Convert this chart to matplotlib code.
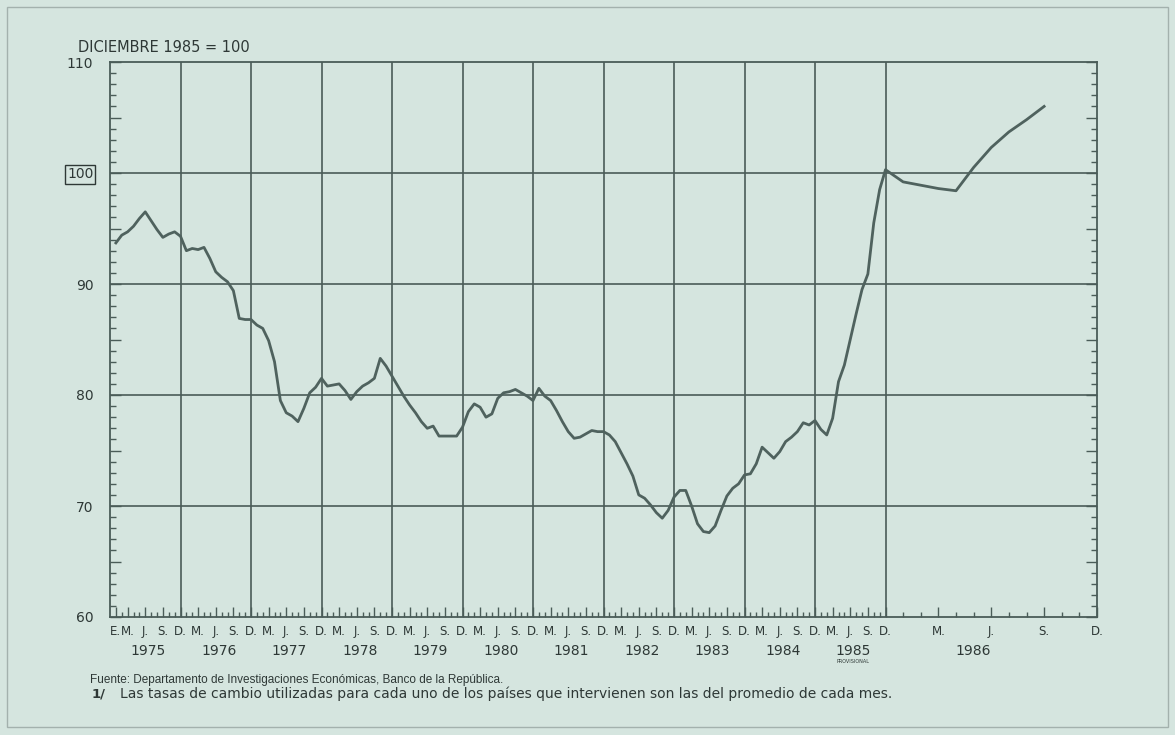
import numpy as np
import matplotlib
matplotlib.use("Agg")
import matplotlib.pyplot as plt
from matplotlib.ticker import FixedLocator, MultipleLocator
from matplotlib.patches import Rectangle

plt.rcParams['font.family'] = ['DejaVu Sans']

# indice mensual, diciembre 1985 = 100
years = [1975, 1976, 1977, 1978, 1979, 1980, 1981, 1982, 1983, 1984, 1985, 1986]
v1975 = [93.7, 94.4, 94.7, 95.2, 95.9, 96.5, 95.7, 94.9, 94.2, 94.5, 94.7, 94.3]
v1976 = [93.0, 93.2, 93.1, 93.3, 92.3, 91.1, 90.6, 90.2, 89.4, 86.9, 86.8, 86.8]
v1977 = [86.3, 86.0, 84.9, 83.0, 79.5, 78.4, 78.1, 77.6, 78.8, 80.2, 80.7, 81.5]
v1978 = [80.8, 80.9, 81.0, 80.4, 79.6, 80.3, 80.8, 81.1, 81.5, 83.3, 82.6, 81.7]
v1979 = [80.8, 79.9, 79.1, 78.4, 77.6, 77.0, 77.2, 76.3, 76.3, 76.3, 76.3, 77.1]
v1980 = [78.5, 79.2, 78.9, 78.0, 78.3, 79.7, 80.2, 80.3, 80.5, 80.2, 79.9, 79.5]
v1981 = [80.6, 79.9, 79.5, 78.6, 77.6, 76.7, 76.1, 76.2, 76.5, 76.8, 76.7, 76.7]
v1982 = [76.4, 75.8, 74.8, 73.8, 72.7, 71.0, 70.7, 70.1, 69.4, 68.9, 69.6, 70.8]
v1983 = [71.4, 71.4, 70.0, 68.4, 67.7, 67.6, 68.2, 69.6, 70.9, 71.6, 72.0, 72.8]
v1984 = [72.9, 73.8, 75.3, 74.8, 74.3, 74.9, 75.8, 76.2, 76.7, 77.5, 77.3, 77.7]
v1985 = [76.9, 76.4, 77.9, 81.2, 82.7, 85.0, 87.3, 89.5, 90.9, 95.5, 98.5, 100.3]
v1986 = [99.2, 98.9, 98.6, 98.4, 100.5, 102.3, 103.7, 104.8, 106.0]
series = [v1975, v1976, v1977, v1978, v1979, v1980, v1981, v1982, v1983, v1984, v1985, v1986]

month_letters = {3: 'M.', 6: 'J.', 9: 'S.', 12: 'D.'}
y_labels = [60, 70, 80, 90, 100, 110]
grid_levels = [70, 80, 90, 100]

months = []
values = []
for yr, vals in zip(years, series):
    for m, v in enumerate(vals, start=1):
        months.append((yr - years[0]) * 12 + m)
        values.append(v)

# 1986 se dibuja en escala ampliada (x3)
SPLIT = (1985 - years[0] + 1) * 12
STRETCH = 3.0


def fwd(t):
    t = np.asarray(t, dtype=float)
    return np.where(t <= SPLIT, t, SPLIT + (t - SPLIT) * STRETCH)


def inv(x):
    x = np.asarray(x, dtype=float)
    return np.where(x <= SPLIT, x, SPLIT + (x - SPLIT) / STRETCH)


bg = '#d5e5df'
ink = '#4a5c58'
txt = '#2e3836'

fig = plt.figure(figsize=(11.75, 7.35), dpi=100, facecolor=bg)
ax = fig.add_axes([110 / 1175, 1 - 617 / 735, 987 / 1175, 555 / 735])
ax.set_facecolor(bg)
ax.set_xscale('function', functions=(fwd, inv))
ax.set_xlim(0, 144)
ax.set_ylim(60, 110)

for sp in ax.spines.values():
    sp.set_color(ink)
    sp.set_linewidth(1.3)

# grilla
for g in grid_levels:
    ax.axhline(g, color=ink, lw=1.2, zorder=1)
for yr in years[:-1]:
    ax.axvline((yr - years[0] + 1) * 12, color=ink, lw=1.2, zorder=1)

ax.plot(months, values, color='#4f625e', lw=2.0, zorder=3, solid_joinstyle='round')

# eje x
major_pos = [1]
major_lab = ['E.']
for yr in years:
    for m, l in month_letters.items():
        major_pos.append((yr - years[0]) * 12 + m)
        major_lab.append(l)
ax.xaxis.set_major_locator(FixedLocator(major_pos))
ax.set_xticklabels(major_lab)
ax.xaxis.set_minor_locator(FixedLocator(list(range(1, 145))))
ax.tick_params(axis='x', which='major', direction='in', length=7, width=1.0,
               color=ink, labelsize=8.5, labelcolor=txt, pad=6)
ax.tick_params(axis='x', which='minor', direction='in', length=3.5, width=1.0, color=ink)

xt = ax.get_xaxis_transform()
for yr in years:
    mid = (yr - years[0]) * 12 + (6.5 if yr < 1986 else 5)
    ax.text(mid, -0.062, str(yr), transform=xt, ha='center', va='center',
            fontsize=10, color=txt)
ax.text((1985 - years[0]) * 12 + 6.5, -0.081, 'PROVISIONAL', transform=xt,
        ha='center', va='center', fontsize=3.5, color=txt)

# eje y
ax.yaxis.set_major_locator(FixedLocator(list(range(60, 111, 5))))
ax.set_yticklabels([str(v) if v in y_labels else '' for v in range(60, 111, 5)])
ax.yaxis.set_minor_locator(MultipleLocator(1))
ax.tick_params(axis='y', which='major', direction='in', length=8, width=1.0,
               color=ink, labelsize=10, labelcolor=txt, pad=12, right=True)
ax.tick_params(axis='y', which='minor', direction='in', length=4.5, width=1.0,
               color=ink, right=True)
for lab in ax.get_yticklabels():
    if lab.get_text() == '100':
        lab.set_bbox(dict(boxstyle='square,pad=0.15', fc=bg, ec=txt, lw=1.0))

fig.text(78 / 1175, 1 - 48 / 735, 'DICIEMBRE 1985 = 100', fontsize=10.5,
         color=txt, va='center')
fig.text(90 / 1175, 1 - 680 / 735,
         'Fuente: Departamento de Investigaciones Económicas, Banco de la República.',
         fontsize=8.5, color=txt, va='center', family='Liberation Sans')
fig.text(92 / 1175, 1 - 694 / 735, '1/', fontsize=9.5, color=txt, va='center',
         fontweight='bold')
fig.text(120 / 1175, 1 - 694 / 735,
         'Las tasas de cambio utilizadas para cada uno de los países que intervienen '
         'son las del promedio de cada mes.',
         fontsize=10, color=txt, va='center')

fig.patches.append(Rectangle((7 / 1175, 8 / 735), 1161 / 1175, 720 / 735,
                             transform=fig.transFigure, fill=False,
                             ec='#a3b1ad', lw=1.0))

fig.savefig('out.png', dpi=100, facecolor=bg)
